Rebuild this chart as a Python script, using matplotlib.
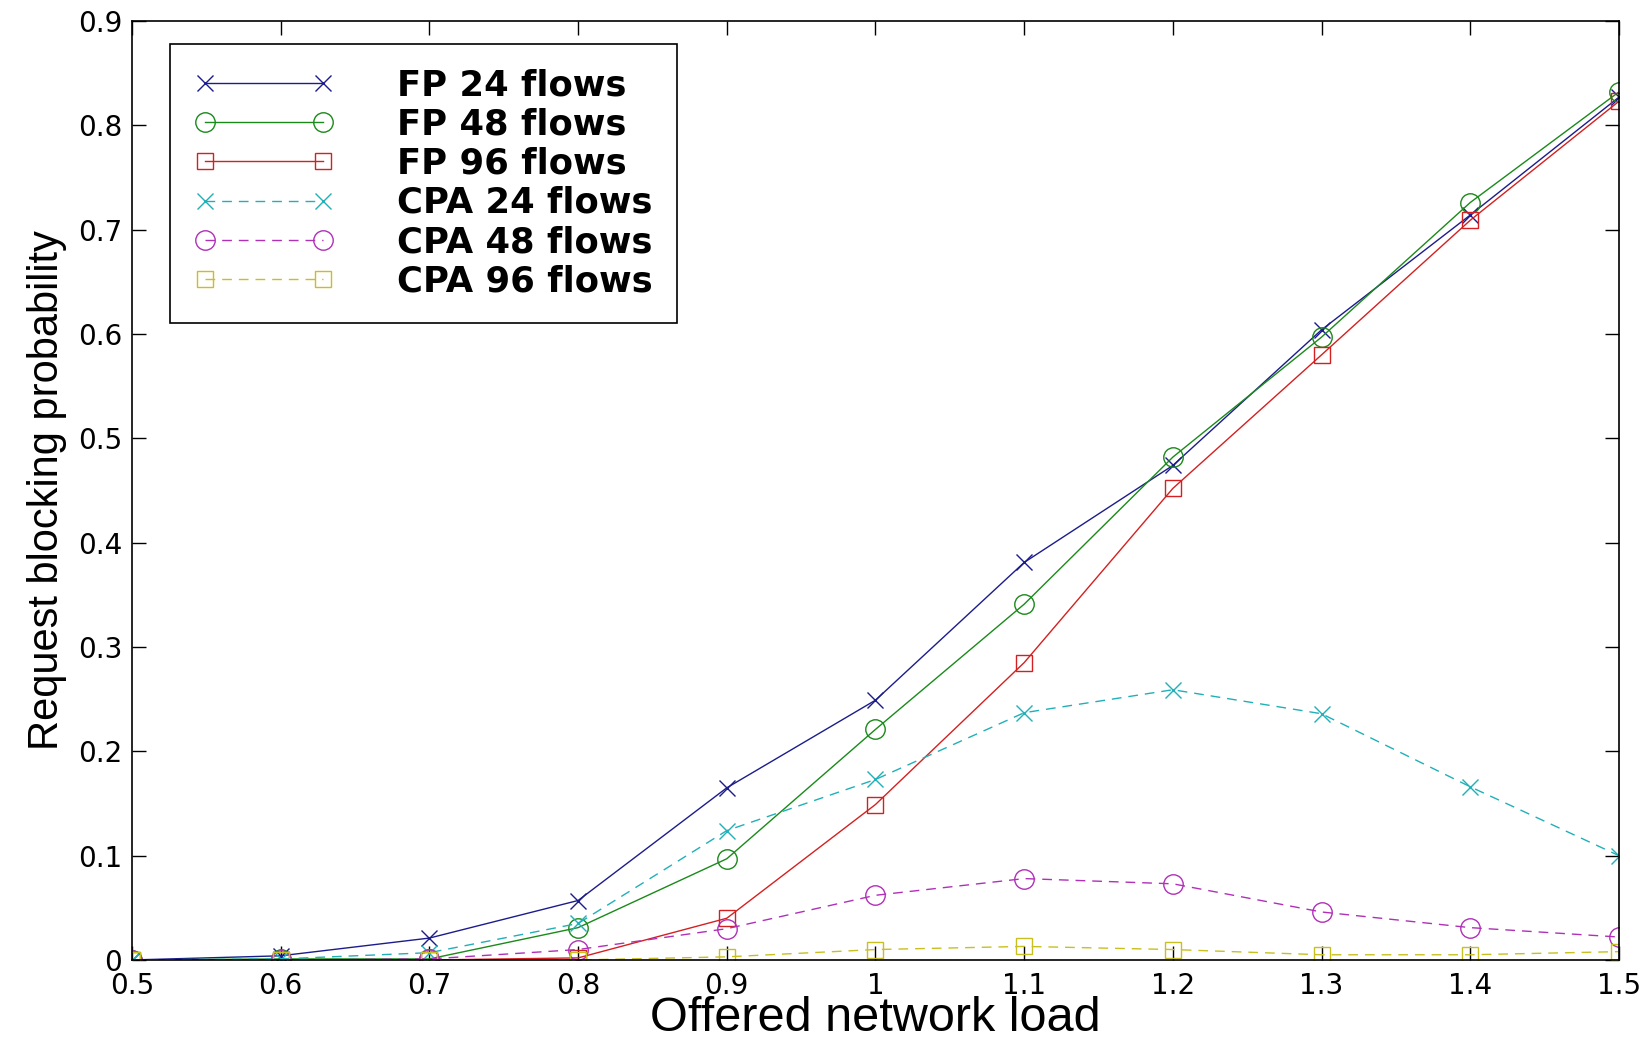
import numpy as np
import matplotlib
matplotlib.use('Agg')
import matplotlib.pyplot as plt

plt.rcParams['font.family'] = ['Liberation Sans', 'DejaVu Sans']

load = [0.5, 0.6, 0.7, 0.8, 0.9, 1.0, 1.1, 1.2, 1.3, 1.4, 1.5]

fp_24 = [0.0, 0.004, 0.021, 0.057, 0.165, 0.249, 0.381, 0.474, 0.604, 0.714, 0.827]
fp_48 = [0.0, 0.001, 0.001, 0.031, 0.097, 0.221, 0.341, 0.482, 0.597, 0.726, 0.832]
fp_96 = [0.0, 0.0, 0.0, 0.002, 0.040, 0.149, 0.285, 0.452, 0.580, 0.709, 0.823]
cpa_24 = [0.0, 0.001, 0.007, 0.035, 0.124, 0.173, 0.237, 0.259, 0.236, 0.166, 0.100]
cpa_48 = [0.0, 0.0, 0.001, 0.010, 0.030, 0.062, 0.078, 0.073, 0.046, 0.031, 0.022]
cpa_96 = [0.0, 0.0, 0.0, 0.0, 0.003, 0.010, 0.013, 0.010, 0.005, 0.005, 0.008]

labels = ['FP 24 flows', 'FP 48 flows', 'FP 96 flows',
          'CPA 24 flows', 'CPA 48 flows', 'CPA 96 flows']

x_ticks = [0.5, 0.6, 0.7, 0.8, 0.9, 1.0, 1.1, 1.2, 1.3, 1.4, 1.5]
x_tick_labels = ['0.5', '0.6', '0.7', '0.8', '0.9', '1', '1.1', '1.2', '1.3', '1.4', '1.5']
y_ticks = [0, 0.1, 0.2, 0.3, 0.4, 0.5, 0.6, 0.7, 0.8, 0.9]
y_tick_labels = ['0', '0.1', '0.2', '0.3', '0.4', '0.5', '0.6', '0.7', '0.8', '0.9']

series = [fp_24, fp_48, fp_96, cpa_24, cpa_48, cpa_96]
colors = ['#1c1c8c', '#1a8a1a', '#d42020', '#20b0b8', '#b030b8', '#c8c020']
markers = ['x', 'o', 's', 'x', 'o', 's']
sizes = [11, 14, 12, 11, 14, 12]
styles = ['-', '-', '-', '--', '--', '--']

fig = plt.figure(figsize=(16.52, 10.43), dpi=100)
ax = fig.add_axes([0.0799, 0.0796, 0.9001, 0.9003])

for vals, lab, c, m, ms, ls in zip(series, labels, colors, markers, sizes, styles):
    ax.plot(load, vals, color=c, marker=m, markersize=ms, linestyle=ls,
            linewidth=1.0, markerfacecolor='none', markeredgecolor=c,
            markeredgewidth=1.0, label=lab, dashes=(7, 5) if ls == '--' else (None, None))

ax.set_xlim(0.5, 1.5)
ax.set_ylim(0, 0.9)
ax.set_xticks(x_ticks)
ax.set_xticklabels(x_tick_labels)
ax.set_yticks(y_ticks)
ax.set_yticklabels(y_tick_labels)
ax.tick_params(direction='in', length=10, width=1, labelsize=20,
               top=True, right=True)
ax.tick_params(axis='y', pad=7)
ax.tick_params(axis='x', pad=9)
for lbl in ax.get_xticklabels() + ax.get_yticklabels():
    lbl.set_family('DejaVu Sans')
for sp in ax.spines.values():
    sp.set_linewidth(1.2)

ax.set_xlabel('Offered network load', fontsize=35, labelpad=-3)
ax.set_ylabel('Request blocking probability', fontsize=30, labelpad=8)

leg = ax.legend(loc='upper left', bbox_to_anchor=(0.0256, 0.9755), numpoints=2,
                handlelength=3.93, handletextpad=1.8,
                labelspacing=0.15, borderpad=0.68, borderaxespad=0,
                fancybox=False, framealpha=1, edgecolor='black',
                prop={'family': 'DejaVu Sans', 'size': 25.5, 'weight': 'bold'})
leg.get_frame().set_linewidth(1.2)

plt.savefig('out.png', dpi=100)
